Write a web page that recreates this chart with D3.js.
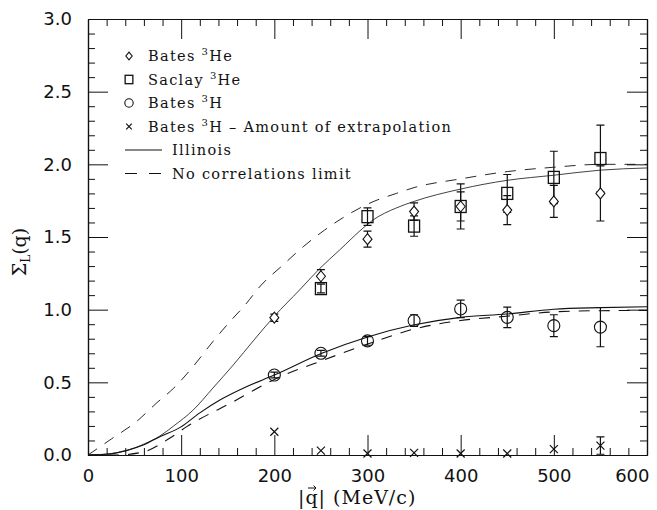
<!DOCTYPE html>
<html lang="en">
<head>
  <meta charset="UTF-8">
  <title>Sigma_L(q)</title>
  <script src="https://d3js.org/d3.v7.min.js"></script>
  <style>
    body { margin: 0; background: #fff; }
    text { fill: #111; }
  </style>
</head>
<body>
<script>
  // data
  const qPts = [200, 250, 300, 350, 400, 450, 500, 550];
  const batesHe = [0.945, 1.23, 1.485, 1.675, 1.71, 1.685, 1.745, 1.80];
  const batesHeErr = [0.025, 0.045, 0.055, 0.06, 0.155, 0.10, 0.11, 0.19];
  const saclayQ = [250, 300, 350, 400, 450, 500, 550];
  const saclayHe = [1.145, 1.64, 1.575, 1.71, 1.80, 1.91, 2.04];
  const saclayErr = [0.03, 0.06, 0.07, 0.10, 0.13, 0.18, 0.23];
  const batesH = [0.55, 0.70, 0.785, 0.925, 1.005, 0.947, 0.89, 0.88];
  const batesHErr = [0.02, 0.02, 0.03, 0.04, 0.06, 0.07, 0.075, 0.135];
  const extrap = [0.16, 0.03, 0.01, 0.015, 0.01, 0.01, 0.04, 0.065];
  const extrapErr = [0, 0, 0, 0, 0, 0, 0, 0.06];

  const illHeQ = [0, 25, 41, 60, 77, 92, 113, 134, 156, 178, 200, 227, 249, 270, 295, 306, 331, 350, 400, 450, 500, 550, 600];
  const illHe = [0, 0.01, 0.03, 0.075, 0.13, 0.2, 0.31, 0.46, 0.62, 0.79, 0.955, 1.135, 1.285, 1.41, 1.56, 1.617, 1.70, 1.745, 1.83, 1.89, 1.925, 1.96, 1.975];
  const ncHeQ = [0, 25, 52, 74, 92, 113, 134, 154, 167, 186, 208, 231, 254, 278, 306, 331, 350, 400, 450, 500, 550, 600];
  const ncHe = [0, 0.11, 0.23, 0.36, 0.46, 0.61, 0.78, 0.93, 1.02, 1.17, 1.30, 1.433, 1.548, 1.65, 1.743, 1.80, 1.84, 1.90, 1.95, 1.98, 2.0, 2.0];
  const illHQ = [0, 20, 41, 60, 77, 99, 120, 142, 170, 200, 251, 301, 349, 400, 449, 500, 550, 600];
  const illH = [0, 0.005, 0.03, 0.07, 0.126, 0.19, 0.29, 0.38, 0.47, 0.55, 0.70, 0.814, 0.894, 0.947, 0.97, 1.003, 1.014, 1.02];
  const ncHQ = [0, 30, 59, 88, 106, 156, 200, 251, 301, 349, 400, 449, 500, 550, 600];
  const ncH = [0, 0.0, 0.02, 0.117, 0.195, 0.367, 0.52, 0.649, 0.765, 0.865, 0.925, 0.955, 0.985, 0.993, 0.995];

  const xTicks = [0, 100, 200, 300, 400, 500, 600];
  const yTicks = [0, 0.5, 1.0, 1.5, 2.0, 2.5, 3.0];
  const legendItems = [
    { kind: "diamond", label: ["Bates ", "3", "He"] },
    { kind: "square", label: ["Saclay ", "3", "He"] },
    { kind: "circle", label: ["Bates ", "3", "H"] },
    { kind: "cross", label: ["Bates ", "3", "H \u2013 Amount of extrapolation"] },
    { kind: "solid", label: ["Illinois"] },
    { kind: "dashed", label: ["No correlations limit"] }
  ];

  const width = 657, height = 510;
  const ink = "#111";

  const x = d3.scaleLinear().domain([0, 600]).range([88, 647]);
  const y = d3.scaleLinear().domain([0, 3]).range([455, 19]);

  const svg = d3.create("svg")
      .attr("width", width)
      .attr("height", height)
      .attr("viewBox", [0, 0, width, height]);

  // axes: major ticks 20px inward, minor 7px
  const minorX = d3.range(0, 601, 20).filter(d => d % 100 !== 0);
  const minorY = d3.range(0, 3.001, 0.1).filter(d => Math.abs(d * 2 - Math.round(d * 2)) > 1e-6);

  function styleAxis(g) {
    g.selectAll("path.domain").attr("stroke", ink).attr("stroke-width", 1.2);
    g.selectAll(".tick line").attr("stroke", ink).attr("stroke-width", 1);
    g.selectAll(".tick text")
      .attr("fill", ink)
      .style("font-family", "'DejaVu Sans', sans-serif")
      .style("font-size", "18px");
  }

  svg.append("g")
      .attr("transform", `translate(0,${y(0)})`)
      .call(d3.axisBottom(x).tickValues(xTicks).tickSizeInner(-20).tickSizeOuter(0).tickPadding(14).tickFormat(d3.format("d")))
      .call(styleAxis)
      .call(g => g.selectAll(".tick text").filter(d => d === 600).attr("text-anchor", "end").attr("x", 2));
  svg.append("g")
      .attr("transform", `translate(0,${y(0)})`)
      .call(d3.axisBottom(x).tickValues(minorX).tickSizeInner(-7).tickSizeOuter(0).tickFormat(""))
      .call(styleAxis);
  svg.append("g")
      .attr("transform", `translate(0,${y(3)})`)
      .call(d3.axisTop(x).tickValues(xTicks).tickSizeInner(-20).tickSizeOuter(0).tickFormat(""))
      .call(styleAxis);
  svg.append("g")
      .attr("transform", `translate(0,${y(3)})`)
      .call(d3.axisTop(x).tickValues(minorX).tickSizeInner(-7).tickSizeOuter(0).tickFormat(""))
      .call(styleAxis);
  svg.append("g")
      .attr("transform", `translate(${x(0)},0)`)
      .call(d3.axisLeft(y).tickValues(yTicks).tickSizeInner(-20).tickSizeOuter(0).tickPadding(16).tickFormat(d3.format(".1f")))
      .call(styleAxis);
  svg.append("g")
      .attr("transform", `translate(${x(0)},0)`)
      .call(d3.axisLeft(y).tickValues(minorY).tickSizeInner(-7).tickSizeOuter(0).tickFormat(""))
      .call(styleAxis);
  svg.append("g")
      .attr("transform", `translate(${x(600)},0)`)
      .call(d3.axisRight(y).tickValues(yTicks).tickSizeInner(-20).tickSizeOuter(0).tickFormat(""))
      .call(styleAxis);
  svg.append("g")
      .attr("transform", `translate(${x(600)},0)`)
      .call(d3.axisRight(y).tickValues(minorY).tickSizeInner(-7).tickSizeOuter(0).tickFormat(""))
      .call(styleAxis);

  // curves
  const line = d3.line().x(d => x(d[0])).y(d => y(d[1])).curve(d3.curveMonotoneX);
  const curves = [
    { q: ncHeQ, v: ncHe, dash: "11,9", w: 0.9 },
    { q: illHeQ, v: illHe, dash: null, w: 0.8 },
    { q: ncHQ, v: ncH, dash: "11,9", w: 1.1 },
    { q: illHQ, v: illH, dash: null, w: 1.1 }
  ];
  svg.append("g")
      .attr("fill", "none")
      .attr("stroke", ink)
    .selectAll("path")
    .data(curves)
    .join("path")
      .attr("stroke-width", d => d.w)
      .attr("stroke-dasharray", d => d.dash)
      .attr("d", d => line(d3.zip(d.q, d.v)));

  // markers
  function marker(sel, kind, s) {
    if (kind === "diamond") {
      sel.append("path").attr("d", `M0,${-5.5 * s}L${4.5 * s},0L0,${5.5 * s}L${-4.5 * s},0Z`)
        .attr("fill", "#fff").attr("stroke", ink).attr("stroke-width", 1.1);
    } else if (kind === "square") {
      sel.append("rect").attr("x", -5.5 * s).attr("y", -6 * s).attr("width", 11 * s).attr("height", 12 * s)
        .attr("fill", "none").attr("stroke", ink).attr("stroke-width", 1.3);
    } else if (kind === "circle") {
      sel.append("circle").attr("r", 6 * s)
        .attr("fill", "none").attr("stroke", ink).attr("stroke-width", 1.1);
    } else if (kind === "cross") {
      sel.append("path").attr("d", `M${-4 * s},${-4 * s}L${4 * s},${4 * s}M${4 * s},${-4 * s}L${-4 * s},${4 * s}`)
        .attr("stroke", ink).attr("stroke-width", 1.2);
    }
  }

  function series(qs, vs, errs, kind) {
    const g = svg.append("g");
    const pts = g.selectAll("g")
      .data(qs.map((q, i) => ({ q, v: vs[i], e: errs[i] })))
      .join("g")
        .attr("transform", d => `translate(${x(d.q)},${y(d.v)})`);
    pts.filter(d => d.e > 0).append("path")
      .attr("d", d => {
        const t = y(d.v + d.e) - y(d.v), b = y(d.v - d.e) - y(d.v);
        return `M0,${t}V${b}M-4,${t}H4M-4,${b}H4`;
      })
      .attr("stroke", ink).attr("stroke-width", 1.2).attr("fill", "none");
    pts.each(function() { marker(d3.select(this), kind, 1); });
  }

  series(qPts, batesH, batesHErr, "circle");
  series(saclayQ, saclayHe, saclayErr, "square");
  series(qPts, batesHe, batesHeErr, "diamond");
  series(qPts, extrap, extrapErr, "cross");

  // legend
  const legend = svg.append("g")
      .style("font-family", "'DejaVu Serif', serif")
      .style("font-size", "14.5px");
  legendItems.forEach((it, i) => {
    const row = legend.append("g").attr("transform", `translate(0,${56 + i * 23.5})`);
    let tx = 148;
    if (it.kind === "solid" || it.kind === "dashed") {
      row.append("line").attr("x1", 125).attr("x2", 162).attr("y1", 0).attr("y2", 0)
        .attr("stroke", ink).attr("stroke-width", 1.1)
        .attr("stroke-dasharray", it.kind === "dashed" ? "12,12" : null);
      tx = 172;
    } else {
      const m = row.append("g").attr("transform", "translate(129,0)");
      marker(m, it.kind, 0.7);
    }
    const t = row.append("text").attr("x", tx).attr("y", 5).attr("letter-spacing", 1.3);
    t.append("tspan").text(it.label[0]);
    if (it.label.length > 1) {
      t.append("tspan").attr("dy", -6).style("font-size", "10px").text(it.label[1]);
      t.append("tspan").attr("dy", 6).text(it.label[2]);
    }
  });

  // axis titles
  const xt = svg.append("text")
      .attr("x", 298).attr("y", 504)
      .attr("letter-spacing", 1)
      .style("font-family", "'DejaVu Serif', serif")
      .style("font-size", "19px");
  xt.append("tspan").text("|");
  xt.append("tspan").text("q");
  xt.append("tspan").text("| (MeV/c)");

  const yt = svg.append("text")
      .attr("transform", "translate(26,252) rotate(-90)")
      .attr("text-anchor", "middle")
      .style("font-family", "'DejaVu Serif', serif")
      .style("font-size", "19px");
  yt.append("tspan").text("\u03a3");
  yt.append("tspan").attr("dy", 4).style("font-size", "12px").text("L");
  yt.append("tspan").attr("dy", -4).text("(q)");

  document.body.appendChild(svg.node());

  // small arrow over the q in the x title
  const node = xt.node();
  const qx = 298 + node.getSubStringLength(0, 1) + node.getSubStringLength(1, 1) / 2;
  svg.append("path")
      .attr("d", `M${qx - 4},488H${qx + 4}M${qx + 1.5},485.5L${qx + 4},488L${qx + 1.5},490.5`)
      .attr("stroke", ink).attr("stroke-width", 1).attr("fill", "none");
</script>
</body>
</html>
